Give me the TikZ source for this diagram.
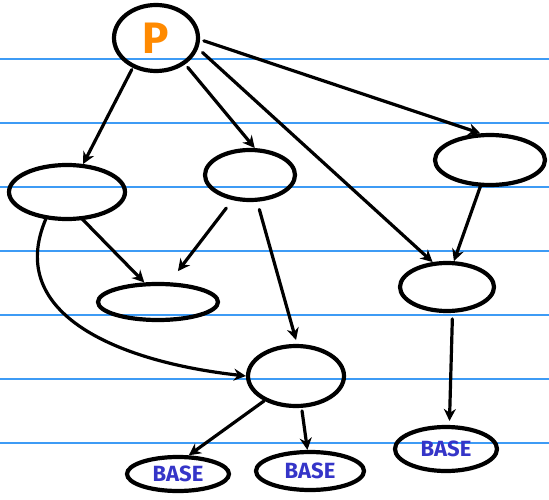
\documentclass[tikz,border=0pt]{standalone}
\usepackage{fontspec}
\setsansfont{Fira Sans}
\usetikzlibrary{arrows.meta, shapes.geometric}
\definecolor{ruleblue}{HTML}{3D9BF5}
\definecolor{penorange}{HTML}{FF8A00}
\definecolor{penblue}{HTML}{3535C8}

\begin{document}
\begin{tikzpicture}[
  x=1pt, y=-1pt,
  >={Stealth[length=12pt, width=12pt]},
  blob/.style={draw, ellipse, line width=4.2pt, inner sep=0pt},
  link/.style={->, line width=3.2pt, line cap=round},
  basetext/.style={text=penblue, font=\sffamily\bfseries\fontsize{22}{22}\selectfont},
]

% Paper and ruled lines
\fill[white] (0,0) rectangle (549,500);
\useasboundingbox (0,0) rectangle (549,500);
\foreach \y in {59,123,...,443}
  \draw[ruleblue, line width=1.8pt] (0,\y) -- (549,\y);

% Problem and sub-problems
\node[blob, minimum width=84pt, minimum height=66pt, text=penorange,
  font=\sffamily\bfseries\fontsize{44}{44}\selectfont] (p) at (156,38) {P};
\node[blob, minimum width=116pt, minimum height=54pt] (a) at (67,192) {};
\node[blob, minimum width=90pt, minimum height=50pt] (b) at (250,175) {};
\node[blob, minimum width=120pt, minimum height=36pt] (c) at (158,302) {};
\node[blob, minimum width=110pt, minimum height=50pt] (d) at (490,160) {};
\node[blob, minimum width=94pt, minimum height=48pt] (e) at (447,287) {};
\node[blob, minimum width=96pt, minimum height=60pt] (f) at (296,376) {};

% Base cases
\node[blob, basetext, minimum width=102pt, minimum height=34pt] (base1) at (178,474) {BASE};
\node[blob, basetext, minimum width=108pt, minimum height=38pt] (base2) at (310,471) {BASE};
\node[blob, basetext, minimum width=102pt, minimum height=44pt] (base3) at (446,449) {BASE};

% Edges from P
\draw[link, shorten <=2pt] (p.232) -- (a.60);
\draw[link, shorten <=4pt] (p.318) -- (b.80);
\draw[link, shorten <=4pt] (p.358) -- (d.110);
\draw[link, shorten <=6pt] (p.346) -- (e.120);

% Edges between sub-problems
\draw[link, shorten <=-4pt] (a.300) -- (c.125);
\draw[link, shorten <=10pt, shorten >=14pt] (b.235) -- (c.60);
\draw[link, shorten <=8pt, shorten >=4pt] (b.285) -- (f.88);
\draw[link] (a.232) .. controls (5,315) and (120,362) .. (f.180);
\draw[link] (d.250) -- (e.75);

% Edges to base cases
\draw[link] (f.218) -- (base1.60);
\draw[link, shorten <=3pt] (f.280) -- (base2.97);
\draw[link, shorten <=6pt, shorten >=4pt] (e.282) -- (base3.82);

\end{tikzpicture}
\end{document}
